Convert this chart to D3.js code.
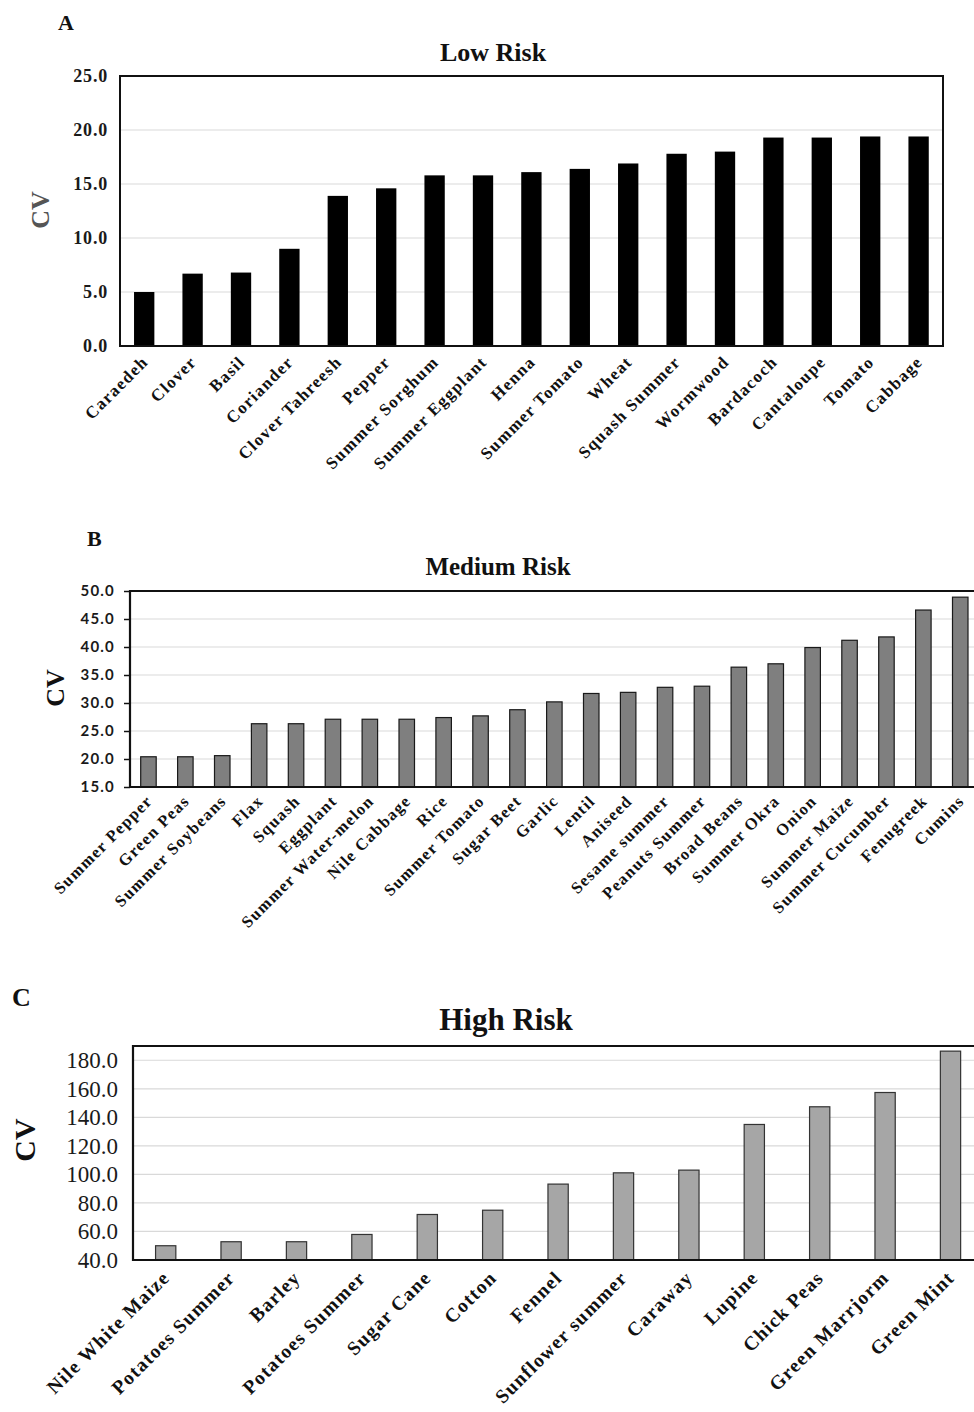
<!DOCTYPE html>
<html>
<head>
<meta charset="utf-8">
<script src="https://cdn.jsdelivr.net/npm/d3@7"></script>
<style>
  body { margin: 0; background: #fff; }
  svg { display: block; }
</style>
</head>
<body>
<div id="chart"></div>
<script>
// ---- data ----
const lowCrops = ['Caraedeh', 'Clover', 'Basil', 'Coriander', 'Clover Tahreesh', 'Pepper',
  'Summer Sorghum', 'Summer Eggplant', 'Henna', 'Summer Tomato', 'Wheat', 'Squash Summer',
  'Wormwood', 'Bardacoch', 'Cantaloupe', 'Tomato', 'Cabbage']
const lowCV = [5.0, 6.7, 6.8, 9.0, 13.9, 14.6, 15.8, 15.8, 16.1, 16.4, 16.9, 17.8, 18.0, 19.3, 19.3, 19.4, 19.4]
const lowTicks = [0, 5, 10, 15, 20, 25]

const medCrops = ['Summer Pepper', 'Green Peas', 'Summer Soybeans', 'Flax', 'Squash', 'Eggplant',
  'Summer Water-melon', 'Nile Cabbage', 'Rice', 'Summer Tomato', 'Sugar Beet', 'Garlic', 'Lentil',
  'Aniseed', 'Sesame summer', 'Peanuts Summer', 'Broad Beans', 'Summer Okra', 'Onion',
  'Summer Maize', 'Summer Cucumber', 'Fenugreek', 'Cumins']
const medCV = [20.4, 20.4, 20.6, 26.3, 26.3, 27.1, 27.1, 27.1, 27.4, 27.7, 28.8, 30.2, 31.7,
  31.9, 32.8, 33.0, 36.4, 37.0, 39.9, 41.2, 41.8, 46.6, 48.9]
const medTicks = [15, 20, 25, 30, 35, 40, 45, 50]

const highCrops = ['Nile White Maize', 'Potatoes Summer', 'Barley', 'Potatoes Summer', 'Sugar Cane',
  'Cotton', 'Fennel', 'Sunflower summer', 'Caraway', 'Lupine', 'Chick Peas', 'Green Marrjorm', 'Green Mint']
const highCV = [50.0, 52.8, 52.8, 57.9, 71.9, 74.9, 93.2, 101.1, 103.0, 135.0, 147.4, 157.4, 186.4]
const highTicks = [40, 60, 80, 100, 120, 140, 160, 180]

const serif = "'Liberation Serif', 'Times New Roman', serif"

const svg = d3
  .select('#chart')
  .append('svg')
  .attr('width', 974)
  .attr('height', 1412)

function drawPanel(p) {
  const g = svg.append('g')

  const x = d3
    .scaleBand()
    .domain(d3.range(p.names.length))
    .range([p.left, p.left + p.step * p.names.length])
    .paddingInner(p.pad)
    .paddingOuter(p.pad / 2)

  const y = d3
    .scaleLinear()
    .domain(p.domain)
    .range([p.bottom, p.top])

  // gridlines
  g.selectAll('.grid')
    .data(p.ticks.filter(t => t !== p.domain[0] && t !== p.domain[1]))
    .enter()
    .append('line')
    .attr('x1', p.left)
    .attr('x2', p.right)
    .attr('y1', d => y(d))
    .attr('y2', d => y(d))
    .attr('stroke', '#d9d9d9')
    .attr('stroke-width', 1.2)

  // bars
  g.selectAll('.bar')
    .data(p.values)
    .enter()
    .append('rect')
    .attr('x', (d, i) => x(i))
    .attr('width', x.bandwidth())
    .attr('y', d => y(d))
    .attr('height', d => p.bottom - y(d))
    .attr('fill', p.fill)
    .attr('stroke', p.stroke)
    .attr('stroke-width', p.stroke === 'none' ? 0 : 1.2)

  // frame
  if (p.box) {
    g.append('rect')
      .attr('x', p.left)
      .attr('y', p.top)
      .attr('width', p.right - p.left)
      .attr('height', p.bottom - p.top)
      .attr('fill', 'none')
      .attr('stroke', '#111')
      .attr('stroke-width', 2)
  } else {
    g.append('path')
      .attr('d', `M${p.right},${p.top}H${p.left}V${p.bottom}H${p.right}`)
      .attr('fill', 'none')
      .attr('stroke', '#111')
      .attr('stroke-width', 2.2)
  }

  // y axis
  const yAxis = g
    .append('g')
    .attr('transform', `translate(${p.left},0)`)
    .call(
      d3.axisLeft(y)
        .tickValues(p.ticks)
        .tickFormat(d3.format('.1f'))
        .tickSize(p.tickSize)
        .tickPadding(p.tickPad)
    )
  yAxis.select('.domain').remove()
  yAxis.selectAll('line').attr('stroke', '#111').attr('stroke-width', 1.5)
  yAxis
    .selectAll('text')
    .attr('font-family', p.tickFont)
    .attr('font-size', p.tickSizePx)
    .attr('font-weight', p.tickWeight)
    .attr('letter-spacing', p.tickSpacing)
    .attr('fill', '#1a1a1a')

  // category labels
  g.selectAll('.cat')
    .data(p.names)
    .enter()
    .append('text')
    .attr('transform', (d, i) =>
      `translate(${x(i) + x.bandwidth() / 2 + p.labDx},${p.bottom + p.labDy}) rotate(-45)`)
    .attr('text-anchor', 'end')
    .attr('font-family', serif)
    .attr('font-weight', 'bold')
    .attr('font-size', p.labSize)
    .attr('letter-spacing', p.labSpacing)
    .attr('fill', '#111')
    .text(d => d)

  // title
  g.append('text')
    .attr('x', p.titleX)
    .attr('y', p.titleY)
    .attr('text-anchor', 'middle')
    .attr('font-family', serif)
    .attr('font-weight', 'bold')
    .attr('font-size', p.titleSize)
    .attr('fill', '#111')
    .text(p.title)

  // panel letter
  g.append('text')
    .attr('x', p.letterX)
    .attr('y', p.letterY)
    .attr('font-family', serif)
    .attr('font-weight', 'bold')
    .attr('font-size', p.letterSize)
    .attr('fill', '#111')
    .text(p.letter)

  // CV axis title
  g.append('text')
    .attr('transform', `translate(${p.cvX},${p.cvY}) rotate(-90)`)
    .attr('text-anchor', 'middle')
    .attr('font-family', serif)
    .attr('font-weight', 'bold')
    .attr('font-size', p.cvSize)
    .attr('fill', p.cvColor)
    .text('CV')
}

drawPanel({
  names: lowCrops, values: lowCV, ticks: lowTicks, domain: [0, 25],
  left: 120, right: 943, top: 76, bottom: 346, step: 48.4, pad: 0.58,
  fill: '#000', stroke: 'none', box: true,
  tickSize: 0, tickPad: 12, tickFont: serif, tickSizePx: 18, tickWeight: 'bold', tickSpacing: 0.8,
  labDx: 5, labDy: 17, labSize: 17, labSpacing: 1.3,
  title: 'Low Risk', titleX: 493, titleY: 61, titleSize: 26,
  letter: 'A', letterX: 58, letterY: 30, letterSize: 22,
  cvX: 49, cvY: 210, cvSize: 26, cvColor: '#555'
})

drawPanel({
  names: medCrops, values: medCV, ticks: medTicks, domain: [15, 50],
  left: 130, right: 974, top: 591, bottom: 787, step: 36.9, pad: 0.58,
  fill: '#7f7f7f', stroke: '#1a1a1a', box: false,
  tickSize: 6, tickPad: 9, tickFont: "Lato, 'Open Sans', sans-serif", tickSizePx: 15, tickWeight: 'bold', tickSpacing: 1.2,
  labDx: 5, labDy: 15, labSize: 16.5, labSpacing: 1.3,
  title: 'Medium Risk', titleX: 498, titleY: 575, titleSize: 25,
  letter: 'B', letterX: 87, letterY: 546, letterSize: 22,
  cvX: 64, cvY: 688, cvSize: 26, cvColor: '#111'
})

drawPanel({
  names: highCrops, values: highCV, ticks: highTicks, domain: [40, 190],
  left: 133, right: 974, top: 1046, bottom: 1260, step: 65.4, pad: 0.69,
  fill: '#a6a6a6', stroke: '#333', box: false,
  tickSize: 0, tickPad: 15, tickFont: serif, tickSizePx: 23, tickWeight: 'normal', tickSpacing: 0,
  labDx: 5, labDy: 19, labSize: 19.5, labSpacing: 1.2,
  title: 'High Risk', titleX: 506, titleY: 1030, titleSize: 31,
  letter: 'C', letterX: 12, letterY: 1006, letterSize: 26,
  cvX: 35, cvY: 1140, cvSize: 30, cvColor: '#111'
})
</script>
</body>
</html>
